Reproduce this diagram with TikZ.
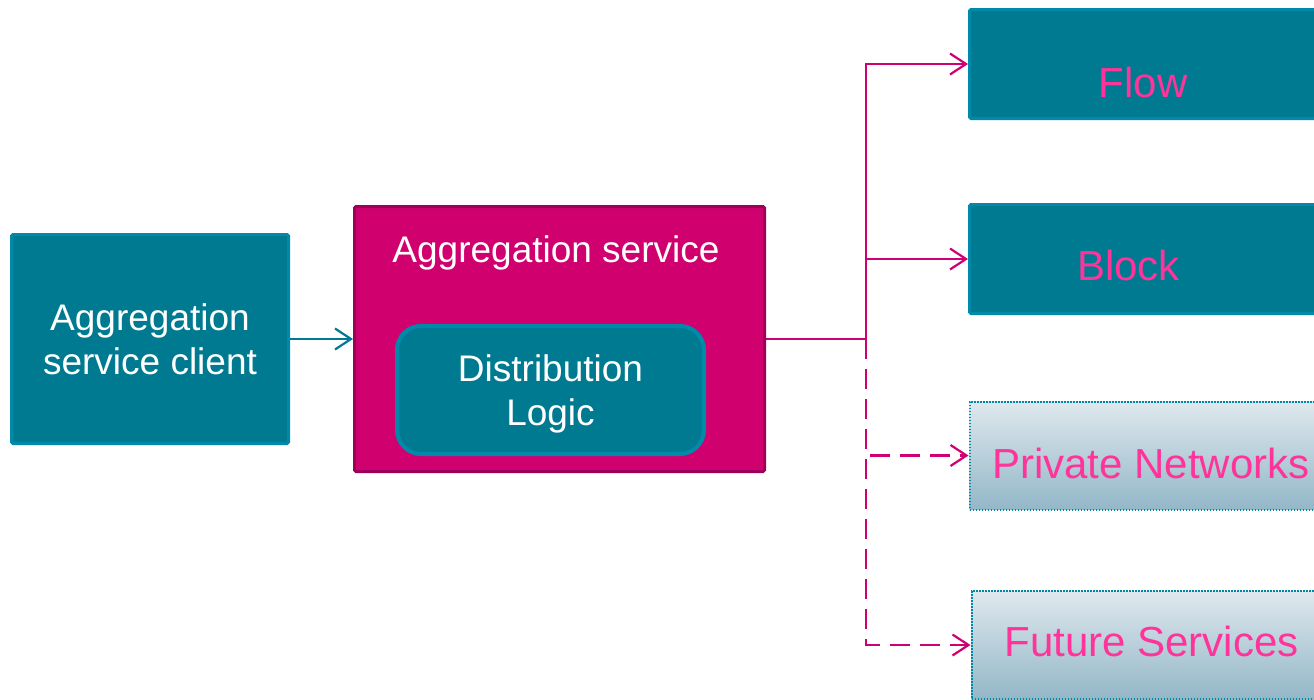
\documentclass[tikz,border=0pt]{standalone}
\usepackage{fontspec}
\setmainfont{Liberation Sans}
\usetikzlibrary{arrows.meta}
\definecolor{tealfill}{HTML}{007A91}
\definecolor{tealedge}{HTML}{0089A8}
\definecolor{dotedge}{HTML}{0088A3}
\definecolor{aggfill}{HTML}{D1006F}
\definecolor{aggedge}{HTML}{9C0058}
\definecolor{magline}{HTML}{CF0073}
\definecolor{pinktext}{HTML}{FF3399}
\definecolor{palefill}{HTML}{DFE8EE}
\definecolor{greyfill}{HTML}{93B7C7}

\begin{document}
\begin{tikzpicture}[x=1pt, y=-1pt,
  tealbox/.style={draw=tealedge, fill=tealfill, line width=3pt, rounded corners=1.5pt, inner sep=0pt, text=white},
  aggbox/.style={draw=aggedge, fill=aggfill, line width=3pt, rounded corners=1.5pt, inner sep=0pt},
  planbox/.style={draw=dotedge, line width=2pt, dash pattern=on 1.6pt off 1.4pt, top color=palefill, bottom color=greyfill, inner sep=0pt, minimum width=366pt, minimum height=108pt},
  svcbox/.style={tealbox, minimum width=366pt, minimum height=109pt},
  bigtxt/.style={font=\fontsize{37}{44}\selectfont},
  svctxt/.style={text=pinktext, font=\fontsize{42}{50}\selectfont, anchor=base},
  magarrow/.style={draw=magline, line width=2.2pt, -{Straight Barb[length=16pt, width=21pt]}},
  planarrow/.style={magarrow, dash pattern=on 20pt off 10pt}]
\useasboundingbox (0,0) rectangle (1314,699);
\clip (0,0) rectangle (1314,699);
% left side
\node[tealbox, bigtxt, align=center, minimum width=277pt, minimum height=209pt] (client) at (150,339) {Aggregation\\service client};
\node[aggbox, minimum width=410pt, minimum height=265pt] (agg) at (559.5,339) {};
\node[bigtxt, text=white, anchor=base] (aggtitle) at (556,262) {Aggregation service};
\node[tealbox, bigtxt, align=center, text depth=0pt, line width=4pt, rounded corners=24pt, minimum width=307pt, minimum height=128pt] (dist) at (550.5,390) {Distribution\\Logic};
% services
\node[svcbox] (flow) at (1152.5,64) {};
\node[svcbox] (block) at (1152.5,259) {};
\node[planbox] (priv) at (1152.5,455.5) {};
\node[planbox] (future) at (1154.5,645) {};
\node[svctxt] (flowtxt) at (1143,97) {Flow};
\node[svctxt] (blocktxt) at (1128.5,280) {Block};
\node[svctxt] (privtxt) at (1151,478) {Private Networks};
\node[svctxt] (futuretxt) at (1151.5,656) {Future Services};
% connectors
\coordinate (split) at (866,339);
\draw[draw=tealfill, line width=2.2pt, -{Straight Barb[length=16pt, width=21pt]}] (client.east) -- (agg.west);
\draw[draw=magline, line width=2.2pt] (agg.east) -- (split);
\draw[magarrow] (split) |- (flow.west);
\draw[magarrow] (split) |- (block.west);
\draw[planarrow] (split) |- (priv.west);
\draw[planarrow] (split) |- (future.west);
\end{tikzpicture}
\end{document}
